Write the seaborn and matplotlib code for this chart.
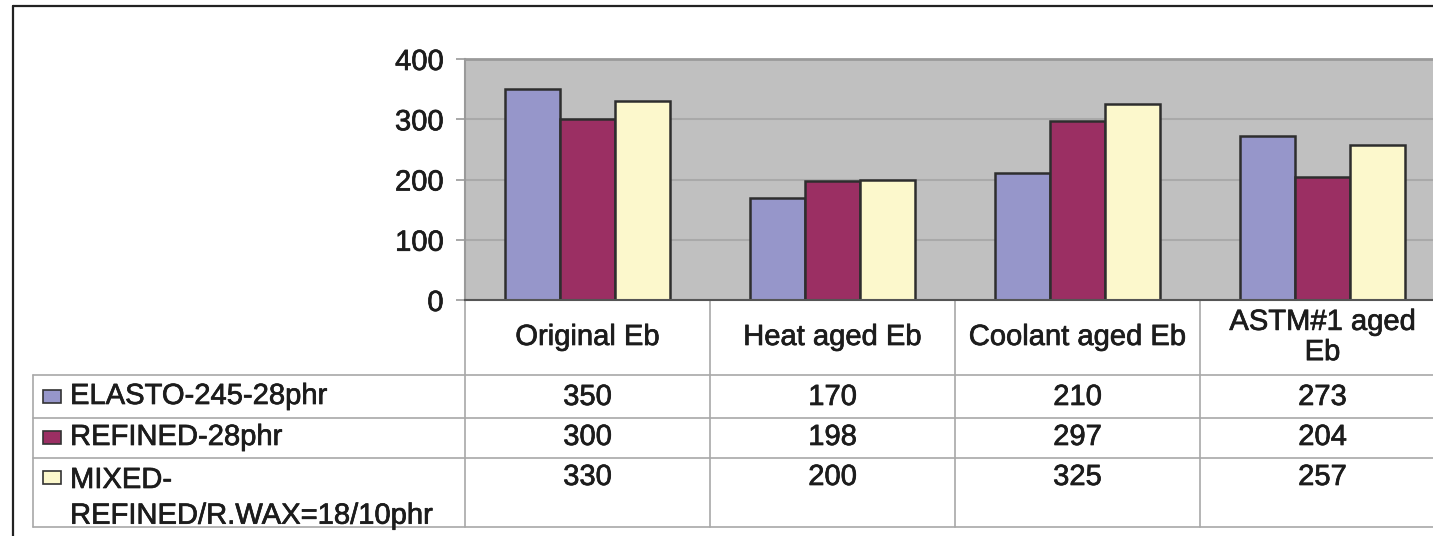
import pandas as pd
import matplotlib
matplotlib.use('Agg')
import matplotlib.pyplot as plt
import matplotlib.transforms as mtransforms
import matplotlib.patheffects as pe
from matplotlib.patches import Rectangle
from matplotlib.lines import Line2D
import seaborn as sns

# Chart data
categories = ['Original Eb', 'Heat aged Eb', 'Coolant aged Eb', 'ASTM#1 aged\nEb']
series_names = ['ELASTO-245-28phr', 'REFINED-28phr', 'MIXED-\nREFINED/R.WAX=18/10phr']
elasto = [350, 170, 210, 273]
refined = [300, 198, 297, 204]
mixed = [330, 200, 325, 257]
colors = ['#9696ca', '#9b2f63', '#fcf8cc']
yticks = [0, 100, 200, 300, 400]

sns.set_theme(style='white')
plt.rcParams['font.family'] = ['Liberation Sans', 'DejaVu Sans']

# long-form table for seaborn
rows = []
for name, vals in zip(series_names, [elasto, refined, mixed]):
    for cat, v in zip(categories, vals):
        rows.append({'category': cat, 'series': name, 'value': v})
df = pd.DataFrame(rows)

W, H = 1433, 536
fig = plt.figure(figsize=(W / 100, H / 100), dpi=100)
FS = 21
TXT = '#1c1c1c'
# slight stroke so the text looks as heavy as the scanned original
heavy = [pe.withStroke(linewidth=0.5, foreground=TXT)]


def fx(px):
    return px / W


def fy(py):
    return 1 - py / H


ax = fig.add_axes([fx(465), fy(300), fx(1445) - fx(465), fy(59) - fy(300)])
sns.barplot(data=df, x='category', y='value', hue='series', order=categories,
            hue_order=series_names, palette=colors, width=0.67, gap=0,
            saturation=1, edgecolor='#2e2e2e', linewidth=1.8, legend=False, ax=ax)

ax.set_xlim(-0.5, 3.5)
ax.set_ylim(0, 400)
ax.set_facecolor('#c0c0c0')
ax.set_yticks(yticks)
ax.set_xticks([])
ax.set_xlabel('')
ax.set_ylabel('')
ax.yaxis.grid(True, color='#a9a9a9', lw=1.5)
ax.set_axisbelow(True)
ax.tick_params(axis='y', left=True, length=6.5, width=1.2, color='#999999',
               pad=9, labelsize=FS, labelcolor=TXT)
for lab in ax.get_yticklabels():
    lab.set_path_effects(heavy)
ax.spines['right'].set_visible(False)
ax.spines['top'].set_color('#9a9a9a')
ax.spines['top'].set_linewidth(2)
ax.spines['left'].set_color('#9a9a9a')
ax.spines['left'].set_linewidth(1.5)
ax.spines['bottom'].set_color('#555555')
ax.spines['bottom'].set_linewidth(1.5)

# data table under the chart
grid_col = '#a8a8a8'
trans = mtransforms.blended_transform_factory(ax.transData, fig.transFigure)
for i in range(len(categories) + 1):
    ax.add_artist(Line2D([i - 0.5, i - 0.5], [fy(300), fy(527)], transform=trans,
                         color=grid_col, lw=1.2, clip_on=False))
for py in [375, 418, 458, 527]:
    fig.add_artist(Line2D([fx(33), 1.01], [fy(py), fy(py)], color=grid_col, lw=1.2))
fig.add_artist(Line2D([fx(33), fx(33)], [fy(375), fy(527)], color=grid_col, lw=1.2))

for i, cat in enumerate(categories):
    ax.text(i, fy(337), cat, transform=trans, ha='center', va='center',
            fontsize=FS, color=TXT, linespacing=1.1, clip_on=False,
            path_effects=heavy)

row_y = [397, 437, 477]
for vals, ry in zip([elasto, refined, mixed], row_y):
    for i, v in enumerate(vals):
        ax.text(i, fy(ry), str(v), transform=trans, ha='center', va='center',
                fontsize=FS, color=TXT, clip_on=False, path_effects=heavy)

label_y = [396, 437, 477]
for name, col, ly in zip(series_names, colors, label_y):
    fig.add_artist(Rectangle((fx(43), fy(ly + 7)), fx(18), 13 / H,
                             facecolor=col, edgecolor='#333333', lw=1.2))
    if '\n' in name:
        fig.text(fx(70), fy(ly - 11), name, ha='left', va='top', fontsize=FS,
                 color=TXT, linespacing=1.35, path_effects=heavy)
    else:
        fig.text(fx(70), fy(ly), name, ha='left', va='center', fontsize=FS,
                 color=TXT, path_effects=heavy)

# outer frame
fig.add_artist(Line2D([fx(13), 1.01], [fy(6), fy(6)], color='#222222', lw=1.6))
fig.add_artist(Line2D([fx(13), fx(13)], [fy(6), -0.01], color='#222222', lw=1.6))

fig.savefig('out.png', dpi=100)
